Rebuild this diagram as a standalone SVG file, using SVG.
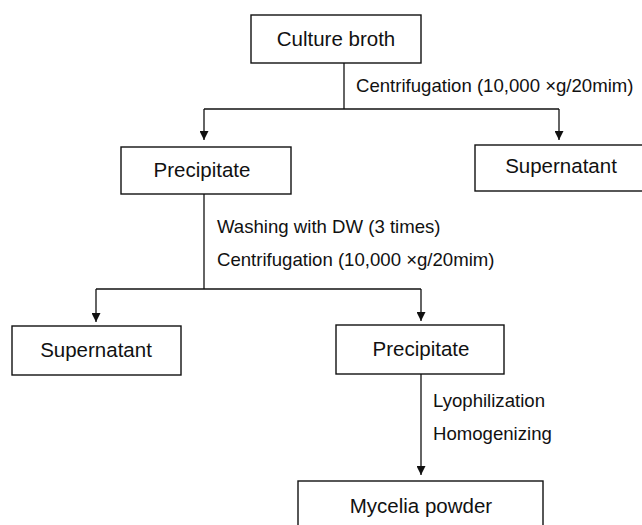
<svg xmlns="http://www.w3.org/2000/svg" width="642" height="525" viewBox="0 0 642 525">
<style>
.box{fill:#fff;stroke:#111;stroke-width:1.4}
.bt{font-family:"Liberation Sans",Arial,sans-serif;font-size:20.5px;fill:#111;text-anchor:middle}
.lb{font-family:"Liberation Sans",Arial,sans-serif;font-size:18.6px;fill:#111}
.ln{fill:none;stroke:#111;stroke-width:1.3}
</style>
<defs>
<marker id="ah" viewBox="0 0 10 10" refX="10" refY="5" markerWidth="10" markerHeight="9" markerUnits="userSpaceOnUse" orient="auto">
<path d="M0,0 L10,5 L0,10 z" fill="#111"/>
</marker>
</defs>
<rect width="642" height="525" fill="#fff"/>
<g id="connectors">
<path class="ln" d="M344,63 V109"/>
<path class="ln" d="M204,109 H559"/>
<path class="ln" d="M204,109 V140" marker-end="url(#ah)"/>
<path class="ln" d="M559,109 V140" marker-end="url(#ah)"/>
<path class="ln" d="M204,194 V289"/>
<path class="ln" d="M96,289 H421"/>
<path class="ln" d="M96,289 V322" marker-end="url(#ah)"/>
<path class="ln" d="M421,289 V321" marker-end="url(#ah)"/>
<path class="ln" d="M421,374 V475" marker-end="url(#ah)"/>
</g>
<g id="labels">
<text class="lb" x="356" y="92">Centrifugation (10,000 ×g/20mim)</text>
<text class="lb" x="217" y="233">Washing with DW (3 times)</text>
<text class="lb" x="217" y="266">Centrifugation (10,000 ×g/20mim)</text>
<text class="lb" x="433" y="407">Lyophilization</text>
<text class="lb" x="433" y="440">Homogenizing</text>
</g>
<g id="culture-broth">
<rect class="box" x="251" y="15" width="170" height="48"/>
<text class="bt" x="336" y="46">Culture broth</text>
</g>
<g id="precipitate-1">
<rect class="box" x="121" y="147" width="170" height="47"/>
<text class="bt" x="202" y="177">Precipitate</text>
</g>
<g id="supernatant-1">
<rect class="box" x="475" y="145" width="172" height="46"/>
<text class="bt" x="561" y="173">Supernatant</text>
</g>
<g id="supernatant-2">
<rect class="box" x="12" y="326" width="169" height="49"/>
<text class="bt" x="96" y="357">Supernatant</text>
</g>
<g id="precipitate-2">
<rect class="box" x="336" y="325" width="168" height="49"/>
<text class="bt" x="421" y="356">Precipitate</text>
</g>
<g id="mycelia-powder">
<rect class="box" x="298" y="481" width="245" height="52"/>
<text class="bt" x="421" y="513">Mycelia powder</text>
</g>
</svg>
